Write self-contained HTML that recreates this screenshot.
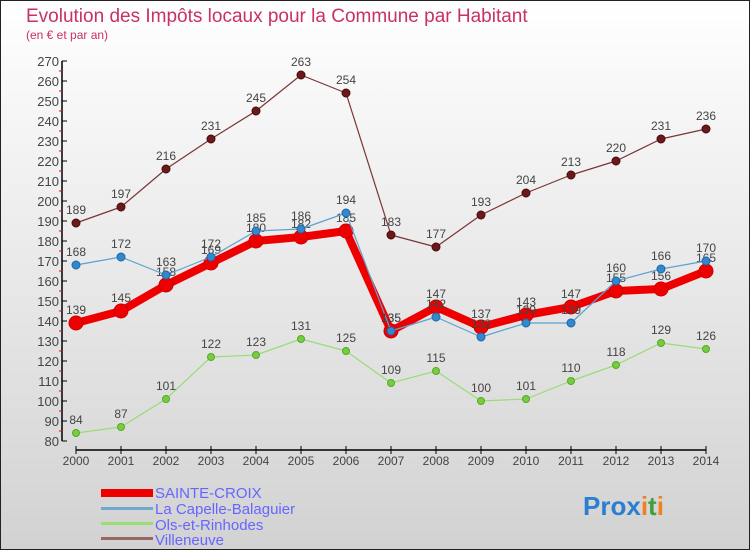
<!DOCTYPE html>
<html><head><meta charset="utf-8"><style>
body{margin:0}
#c{width:750px;height:550px;position:relative;overflow:hidden;font-family:"Liberation Sans",sans-serif}
</style></head><body>
<div id="c">
<svg id="s" width="750" height="550" xmlns="http://www.w3.org/2000/svg">
<defs><linearGradient id="bg" x1="0" y1="0" x2="0" y2="1"><stop offset="0" stop-color="#ffffff"/><stop offset="1" stop-color="#d2d2d2"/></linearGradient></defs>
<rect x="0.5" y="0.5" width="749" height="549" fill="url(#bg)" stroke="#222"/>
<text x="26" y="22" font-size="19" fill="#c8306a">Evolution des Impôts locaux pour la Commune par Habitant</text>
<text x="26" y="39" font-size="12" fill="#c8306a">(en € et par an)</text>
<g id="axes"></g><g id="series"></g>
<g>
<rect x="101" y="489" width="52" height="8" fill="#ee0000"/>
<text x="155" y="498" font-size="15" fill="#6666ff">SAINTE-CROIX</text>
<rect x="101" y="507" width="52" height="3" fill="#6fa8d0"/>
<text x="155" y="514" font-size="15" fill="#6666ff">La Capelle-Balaguier</text>
<rect x="101" y="522" width="52" height="3" fill="#99dd77"/>
<text x="155" y="530" font-size="15" fill="#6666ff">Ols-et-Rinhodes</text>
<rect x="101" y="537" width="52" height="3" fill="#996666"/>
<text x="155" y="545" font-size="15" fill="#6666ff">Villeneuve</text>
</g>
<text x="583" y="515" font-size="26" font-weight="bold"><tspan fill="#2b7fd0">Pro</tspan><tspan fill="#2b7fd0">x</tspan><tspan fill="#f08020">i</tspan><tspan fill="#40a040">t</tspan><tspan fill="#f08020">i</tspan></text>
</svg>
</div>
<script>
const years=[2000,2001,2002,2003,2004,2005,2006,2007,2008,2009,2010,2011,2012,2013,2014];
const sainteCroix=[139,145,158,169,180,182,185,135,147,137,143,147,155,156,165];
const capelle=[168,172,163,172,185,186,194,135,142,132,139,139,160,166,170];
const ols=[84,87,101,122,123,131,125,109,115,100,101,110,118,129,126];
const villeneuve=[189,197,216,231,245,263,254,183,177,193,204,213,220,231,236];
const yTicks=[80,90,100,110,120,130,140,150,160,170,180,190,200,210,220,230,240,250,260,270];
const NS="http://www.w3.org/2000/svg";
const xs=i=>76+i*45;
const ys=v=>441-(v-80)*2;
function mk(t,a,p){const e=document.createElementNS(NS,t);for(const k in a)e.setAttribute(k,a[k]);p.appendChild(e);return e;}
const ax=document.getElementById('axes');
let l=mk('line',{x1:62,y1:ys(270),x2:62,y2:ys(80),stroke:'#000','stroke-width':1.5},ax);


yTicks.forEach(v=>{
 let t=mk('line',{x1:62,y1:ys(v),x2:67,y2:ys(v),stroke:'#000'},ax);
 
 
 if(v<270){let m=mk('line',{x1:59,y1:ys(v+5),x2:62,y2:ys(v+5),stroke:'#e00'},ax);
 
 }
 let tx=mk('text',{x:59,y:ys(v)+5,'font-size':13,fill:'#444','text-anchor':'end'},ax);
 tx.textContent=v;
 
 
});
l=mk('line',{x1:xs(0),y1:450,x2:xs(14),y2:450,stroke:'#000','stroke-width':1.5},ax);


years.forEach((y,i)=>{
 let t=mk('line',{x1:xs(i),y1:446,x2:xs(i),y2:454,stroke:'#000'},ax);
 
 
 let tx=mk('text',{x:xs(i),y:465,'font-size':12,fill:'#444','text-anchor':'middle'},ax);
 tx.textContent=y;
 
 
});
const sg=document.getElementById('series');
function series(data,name,color,w,r,dot,stroke){
 const g=mk('g',{},sg);
 
 
 const p=mk('polyline',{points:data.map((v,i)=>xs(i)+','+ys(v)).join(' '),fill:'none',stroke:color,'stroke-width':w,'stroke-linejoin':'round'},g);
 
 
 data.forEach((v,i)=>{
  const c=mk('circle',{cx:xs(i),cy:ys(v),r:r,fill:dot,stroke:stroke,'stroke-width':1},g);
  
  
  const t=mk('text',{x:xs(i),y:ys(v)-9,'font-size':12,fill:'#444','text-anchor':'middle'},g);
  t.textContent=v;
  
  
 });
}
series(villeneuve,'villeneuve','#7a3535',1.2,4,'#6a1a1a','#4a0a0a');
series(ols,'ols','#99dd77',1.2,3.5,'#77cc44','#55aa22');
series(sainteCroix,'sainte-croix','#ee0000',8,7,'#ee0000','#cc0000');
series(capelle,'capelle','#5fa0d0',1.2,4,'#3388cc','#1a66aa');
</script>
</body></html>
